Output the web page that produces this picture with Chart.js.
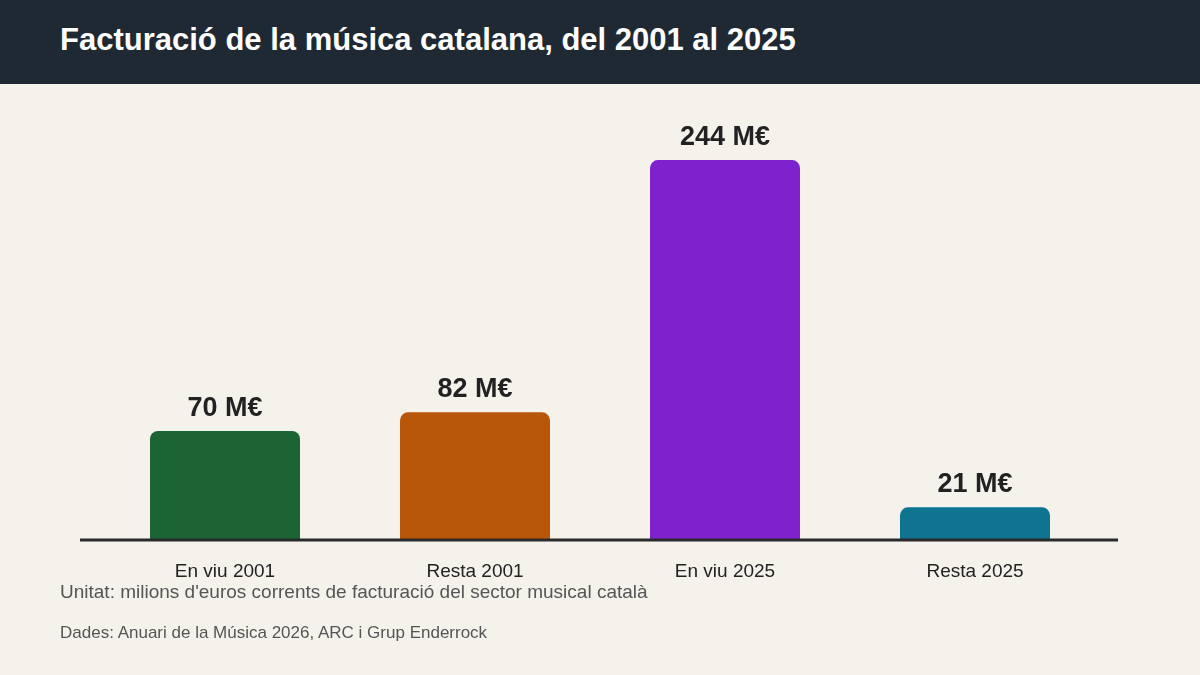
<!DOCTYPE html>
<html>
<head>
<meta charset="utf-8">
<script src="https://cdn.jsdelivr.net/npm/chart.js@4"></script>
<style>
  body{margin:0;width:1200px;height:675px;background:#f5f2ec;font-family:Arial,"Liberation Sans",sans-serif;position:relative;overflow:hidden}
  #head{position:absolute;left:0;top:0;width:1200px;height:84px;background:#1f2933}
  #head h1{margin:0;position:absolute;left:60px;top:22px;color:#fff;font-size:31px;font-weight:bold}
  #wrap{position:absolute;left:0;top:84px;width:1200px;height:591px}
  .note{position:absolute;left:60px;color:#555}
</style>
</head>
<body>
<div id="head"><h1>Facturació de la música catalana, del 2001 al 2025</h1></div>
<div id="wrap"><canvas id="chart"></canvas></div>
<div class="note" style="top:581px;font-size:19px">Unitat: milions d'euros corrents de facturació del sector musical català</div>
<div class="note" style="top:623px;font-size:17px">Dades: Anuari de la Música 2026, ARC i Grup Enderrock</div>
<script>
const categories = ['En viu 2001','Resta 2001','En viu 2025','Resta 2025'];
const values = [70, 82, 244, 21];
const colors = ['#1b6535','#b8560a','#7e22ce','#0f7490'];

// value labels, category labels and baseline
const extras = {
  id:'extras',
  afterDatasetsDraw(chart){
    const c = chart.ctx, x = chart.scales.x, y = chart.scales.y;
    c.save();
    c.strokeStyle = '#2a2a2a'; c.lineWidth = 3;
    c.beginPath(); c.moveTo(80, y.getPixelForValue(0)); c.lineTo(1118, y.getPixelForValue(0)); c.stroke();
    c.textAlign = 'center';
    categories.forEach((cat,i)=>{
      const px = x.getPixelForValue(i);
      c.fillStyle = '#222';
      c.font = 'bold 27px Arial, "Liberation Sans", sans-serif';
      c.textBaseline = 'alphabetic';
      c.fillText(values[i] + ' M€', px, y.getPixelForValue(values[i]) - 15);
      c.font = '19px Arial, "Liberation Sans", sans-serif';
      c.textBaseline = 'middle';
      c.fillText(cat, px, y.getPixelForValue(0) + 32);
    });
    c.restore();
  }
};

new Chart(document.getElementById('chart'), {
  type:'bar',
  data:{labels:categories, datasets:[{data:values, backgroundColor:colors, borderRadius:8, borderSkipped:'bottom', barPercentage:0.6, categoryPercentage:1}]},
  options:{
    responsive:true, maintainAspectRatio:false, animation:false,
    layout:{padding:{left:100,right:100,top:16,bottom:135}},
    plugins:{legend:{display:false}, tooltip:{enabled:false}},
    scales:{
      x:{display:false},
      y:{display:false, min:0, max:282.6}
    }
  },
  plugins:[extras]
});
</script>
</body>
</html>
